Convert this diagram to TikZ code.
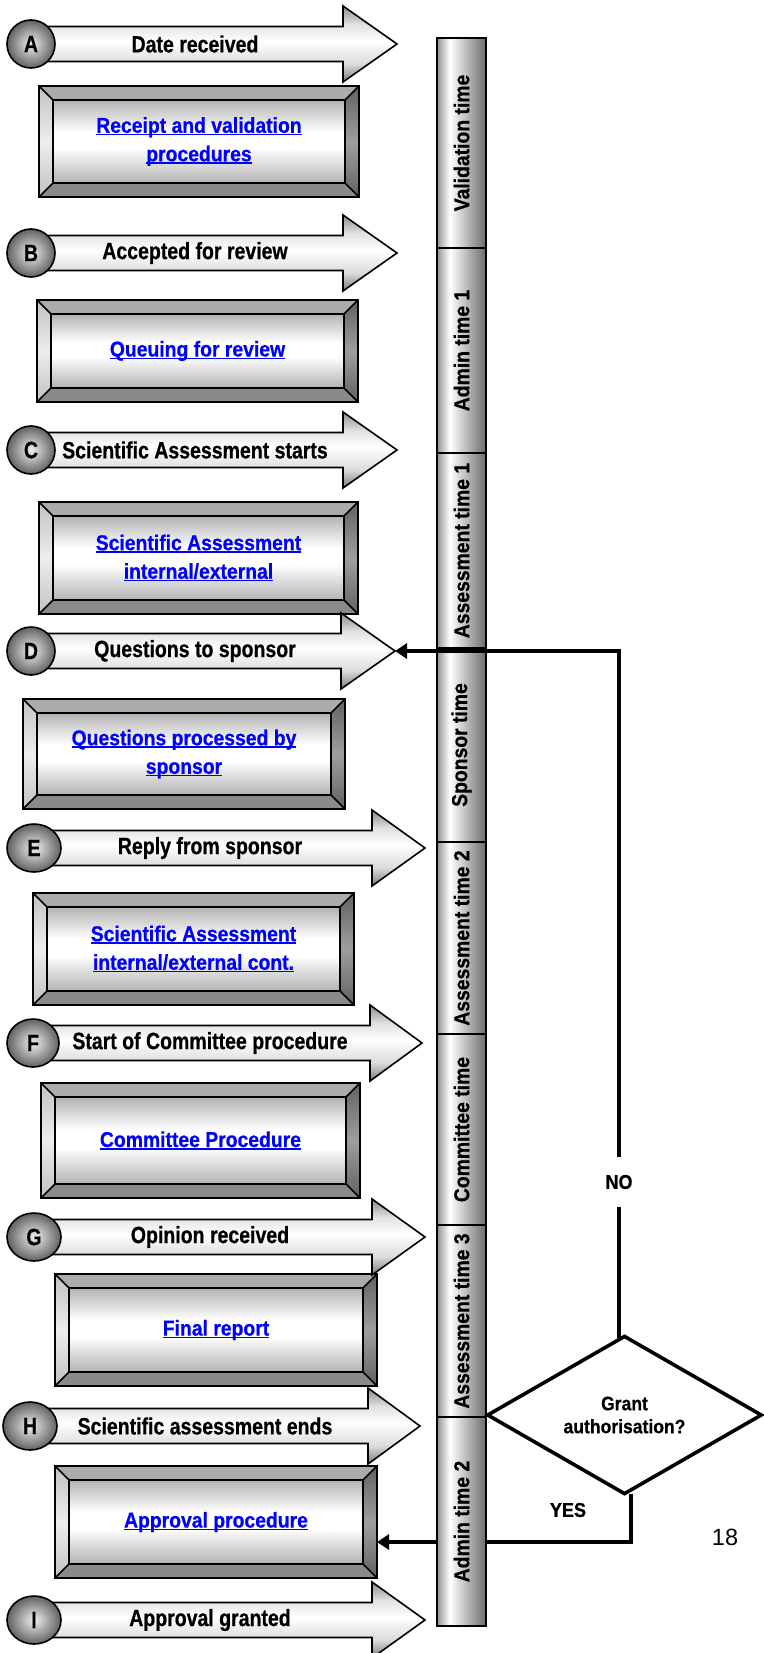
\documentclass[tikz,border=0pt]{standalone}
\usepackage{fontspec}
\setmainfont{Liberation Sans}
\newfontfamily\nbA{Liberation Sans}[FakeStretch=0.83, BoldFeatures={FakeBold=0.6}]
\newfontfamily\nbB{Liberation Sans}[FakeStretch=0.9, BoldFeatures={FakeBold=0.6}]
\usetikzlibrary{shapes.geometric,arrows.meta}
\definecolor{linkblue}{RGB}{0,0,255}
\pgfdeclareverticalshading{arrshade}{100bp}{color(0bp)=(black!52); color(25bp)=(black!52); color(37bp)=(black!14); color(52bp)=(white); color(63bp)=(black!12); color(75bp)=(black!45); color(100bp)=(black!45)}
\pgfdeclareverticalshading{faceshade}{100bp}{color(0bp)=(black!30); color(25bp)=(black!30); color(46bp)=(white); color(56bp)=(white); color(75bp)=(black!30); color(100bp)=(black!30)}
\pgfdeclarehorizontalshading{barshade}{100bp}{color(0bp)=(black!42); color(25bp)=(black!42); color(38bp)=(white); color(75bp)=(black!58); color(100bp)=(black!58)}
\newsavebox\ulbox
\newcommand\myul[1]{\sbox\ulbox{#1}\rlap{\rule[-2.6pt]{\wd\ulbox}{1.6pt}}\usebox\ulbox}
\tikzset{
  outl/.style={draw=black, line width=1.6pt, line join=miter},
  arrtext/.style={font=\nbA\bfseries\fontsize{23.5}{28}\selectfont, text=black, inner sep=0pt},
  circ/.style={ellipse, draw=black, line width=1.6pt, minimum height=48, inner sep=0pt,
    inner color=black!6, outer color=black!62, font=\nbA\bfseries\fontsize{23.5}{28}\selectfont, text=black},
  boxtext/.style={font=\nbB\bfseries\fontsize{21.5}{28.5}\selectfont, text=linkblue, align=center, inner sep=0pt, outer sep=0pt},
  bartext/.style={font=\nbB\bfseries\fontsize{21.5}{25}\selectfont, text=black, inner sep=0pt},
  lbl/.style={font=\nbB\bfseries\fontsize{20}{24}\selectfont, text=black, inner sep=0pt},
  conn/.style={draw=black, line width=3.6pt},
  tip/.style={-{Triangle[length=12pt,width=15pt]}}
}
% #1 name, #2 y, #3 cx, #4 rx, #5 head x, #6 tip x, #7 text x, #8 letter, #9 text
\newcommand\tarrow[9]{%
  \shadedraw[shading=arrshade, outl] (#3,#2-17.5) -- (#5,#2-17.5) -- (#5,#2-38) -- (#6,#2)
     -- (#5,#2+38) -- (#5,#2+17.5) -- (#3,#2+17.5) -- cycle;
  \coordinate (#1tip) at (#6,#2);
  \node[circ, minimum width=2*#4] (#1circ) at (#3,#2) {#8};
  \node[arrtext] (#1) at (#7,#2) {#9};
}
% #1 name, #2 x1, #3 y1, #4 x2, #5 y2, #6 text
\newcommand\bevbox[6]{%
  \shade[shading=faceshade] (#2+14,#3+14) rectangle (#4-14,#5-14);
  \fill[black!33] (#2,#3) -- (#4,#3) -- (#4-14,#3+14) -- (#2+14,#3+14) -- cycle;
  \fill[black!46] (#2,#5) -- (#4,#5) -- (#4-14,#5-14) -- (#2+14,#5-14) -- cycle;
  \shade[top color=black!24, bottom color=black!24, middle color=black!7]
     (#2,#3) -- (#2+14,#3+14) -- (#2+14,#5-14) -- (#2,#5) -- cycle;
  \shade[top color=black!62, bottom color=black!62, middle color=black!38]
     (#4,#3) -- (#4-14,#3+14) -- (#4-14,#5-14) -- (#4,#5) -- cycle;
  \draw[outl] (#2,#3) rectangle (#4,#5);
  \draw[outl] (#2+14,#3+14) rectangle (#4-14,#5-14);
  \draw[outl] (#2,#3) -- (#2+14,#3+14) (#4,#3) -- (#4-14,#3+14)
              (#2,#5) -- (#2+14,#5-14) (#4,#5) -- (#4-14,#5-14);
  \node[boxtext, minimum width=#4-#2, minimum height=#5-#3] (#1) at ({(#2+#4)/2},{(#3+#5)/2}) {#6};
}
\begin{document}
\begin{tikzpicture}[x=1pt,y=-1pt]
\useasboundingbox (0,0) rectangle (763,1653);
\fill[white] (0,0) rectangle (763,1653);

% YES connector (behind the time bar)
\coordinate (yesstart) at (631,1494);
\coordinate (yc) at (631,1542);

% process boxes
\bevbox{boxA}{39}{86}{359}{197}{\myul{Receipt and validation}\\\myul{procedures}}
\bevbox{boxB}{37}{300}{358}{402}{\myul{Queuing for review}}
\bevbox{boxC}{39}{502}{358}{614}{\myul{Scientific Assessment}\\\myul{internal/external}}
\bevbox{boxD}{23}{699}{345}{809}{\myul{Questions processed by}\\\myul{sponsor}}
\bevbox{boxE}{33}{893}{354}{1005}{\myul{Scientific Assessment}\\\myul{internal/external cont.}}
\bevbox{boxF}{41}{1083}{360}{1198}{\myul{Committee Procedure}}
\bevbox{boxG}{55}{1274}{377}{1386}{\myul{Final report}}
\bevbox{boxH}{55}{1466}{377}{1578}{\myul{Approval procedure}}

\draw[conn, tip] (yesstart) -- (yc) -- (boxH.east |- yc);

% time bar
\foreach \a/\b/\t [count=\i] in {38/248/Validation time, 248/453/Admin time 1,
   453/648/Assessment time 1, 648/842/Sponsor time, 842/1034/Assessment time 2,
   1034/1225/Committee time, 1225/1417/Assessment time 3, 1417/1626/Admin time 2}{
  \shadedraw[shading=barshade, outl] (437,\a) rectangle (486,\b);
  \node[bartext, rotate=90] (seg\i) at (461.5,{(\a+\b)/2}) {\t};
}

% milestone arrows
\tarrow{arrA}{44}{31}{24}{343}{397}{195}{A}{Date received}
\tarrow{arrB}{253}{31}{24}{343}{397}{195}{B}{Accepted for review}
\tarrow{arrC}{450}{31}{24}{343}{397}{195}{C}{Scientific Assessment starts}
\tarrow{arrD}{651}{31}{24}{341}{395}{195}{D}{Questions to sponsor}
\tarrow{arrE}{848}{34}{27}{372}{425}{210}{E}{Reply from sponsor}
\tarrow{arrF}{1043}{33}{26}{370}{422}{210}{F}{Start of Committee procedure}
\tarrow{arrG}{1237}{34}{27}{372}{425}{210}{G}{Opinion received}
\tarrow{arrH}{1426}{30}{27}{368}{420}{205}{H}{Scientific assessment ends}
\tarrow{arrI}{1620}{34}{27}{372}{425}{210}{I}{Approval granted}

% decision
\node[diamond, draw=black, line width=3.6pt, minimum width=275, minimum height=144, inner sep=0pt,
  align=center, font=\nbB\bfseries\fontsize{19.5}{23}\selectfont] (dia) at (624.5,1415) {Grant\\authorisation?};
\node[lbl, minimum height=49] (no) at (619,1182) {NO};
\node[lbl] (yes) at (568,1510) {YES};
\draw[conn, shorten >=-4pt] (no.south) -- (no.south |- dia.north);
\draw[conn, tip] (no.north) |- (arrDtip);

\node[font=\fontsize{23.5}{28}\selectfont, inner sep=0pt] (pg) at (725,1537) {18};
\end{tikzpicture}
\end{document}
